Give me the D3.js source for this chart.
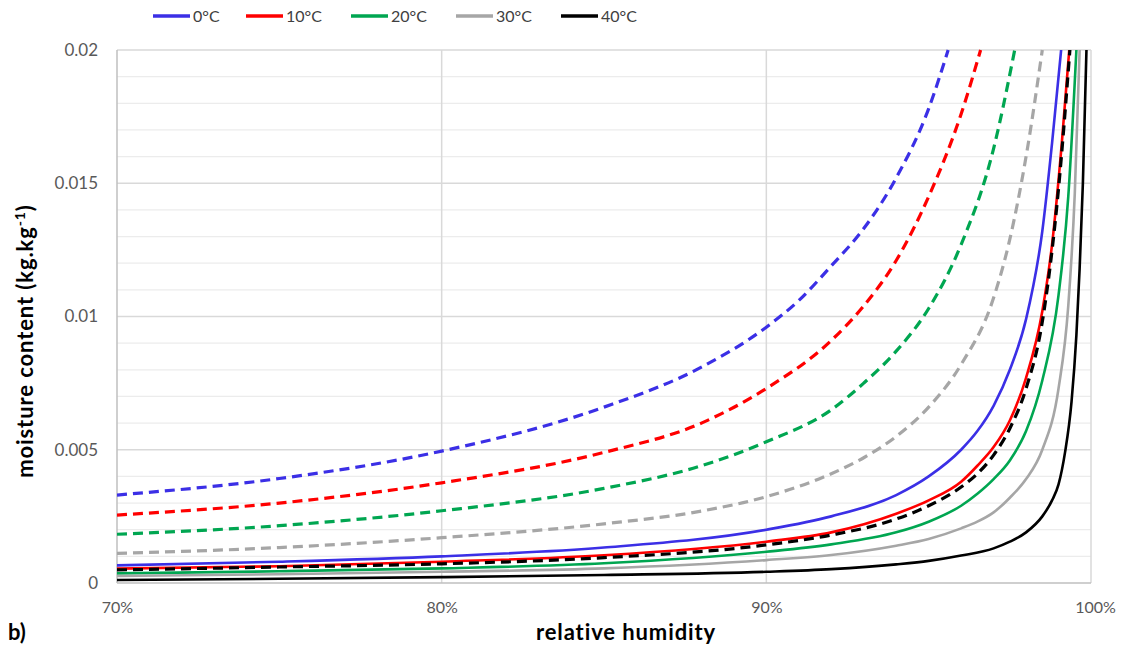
<!DOCTYPE html>
<html><head><meta charset="utf-8">
<script src="https://cdn.jsdelivr.net/npm/d3@7"></script>
<style>html,body{margin:0;padding:0;background:#fff;}svg{display:block;}</style>
</head><body><svg id="c" width="1122" height="652"></svg>
<script>
// ---------- data (relative humidity in %, moisture content in kg/kg) ----------
const temps = ["0°C", "10°C", "20°C", "30°C", "40°C"];
const colors = ["#3b2fe6", "#ff0000", "#00a651", "#a6a6a6", "#000000"];
const xTicks = [70, 80, 90, 100];
const yTicks = [0, 0.005, 0.01, 0.015, 0.02];

// dashed family
const dashed0 = [[70,0.0033],[75,0.00392],[80,0.00495],[85,0.0066],[88,0.0081],[90,0.0096],[91,0.0106],[92,0.0119],[93,0.0133],[94,0.0152],[95,0.0178],[95.6,0.02]];
const dashed10 = [[70,0.00255],[75,0.003],[80,0.00376],[85,0.0049],[88,0.006],[90,0.0073],[92,0.0091],[93,0.0104],[94,0.0121],[95,0.0145],[96,0.0176],[96.6,0.02]];
const dashed20 = [[70,0.00183],[75,0.00215],[80,0.00271],[85,0.00355],[88,0.0044],[90,0.0053],[92,0.0065],[93,0.0075],[94,0.0087],[95,0.0103],[96,0.0127],[97,0.0163],[97.65,0.02]];
const dashed30 = [[70,0.00111],[75,0.00133],[80,0.0017],[85,0.00222],[88,0.0027],[90,0.00324],[92,0.0041],[93,0.0047],[94,0.0055],[95,0.0066],[96,0.0082],[97,0.0107],[97.5,0.0129],[98,0.016],[98.5,0.02]];
const dashed40 = [[70,0.00049],[75,0.0006],[80,0.00072],[85,0.00095],[90,0.00143],[92,0.0018],[94,0.0024],[95,0.0029],[96,0.0036],[96.5,0.0041],[97,0.0048],[97.5,0.0058],[98,0.0073],[98.5,0.0098],[99,0.0148],[99.35,0.02]];

// solid family
const solid0 = [[70,0.00066],[75,0.0008],[80,0.001],[85,0.00133],[90,0.002],[92,0.0025],[94,0.0033],[95,0.004],[96,0.005],[96.5,0.0057],[97,0.00665],[97.5,0.008],[98,0.0099],[98.5,0.0132],[98.8,0.0165],[99.08,0.02]];
const solid10 = [[70,0.00054],[75,0.00063],[80,0.0008],[85,0.00104],[90,0.00155],[92,0.0019],[94,0.0026],[95,0.0031],[96,0.0038],[96.5,0.0044],[97,0.0051],[97.5,0.0061],[98,0.0077],[98.5,0.0102],[98.8,0.0127],[99.1,0.0165],[99.33,0.02]];
const solid20 = [[70,0.00036],[75,0.00044],[80,0.00055],[85,0.00074],[90,0.00117],[92,0.00145],[94,0.0019],[95,0.0023],[96,0.0029],[96.5,0.00335],[97,0.0039],[97.5,0.0046],[98,0.0057],[98.5,0.0076],[99,0.0108],[99.3,0.0145],[99.55,0.02]];
const solid30 = [[70,0.00026],[75,0.00033],[80,0.00042],[85,0.00055],[90,0.00086],[92,0.00105],[94,0.0014],[95,0.00165],[96,0.00205],[96.5,0.0023],[97,0.00265],[97.5,0.0032],[98,0.0039],[98.5,0.005],[99,0.0073],[99.3,0.0104],[99.5,0.0146],[99.65,0.02]];
const solid40 = [[70,0.00011],[75,0.00016],[80,0.00022],[85,0.0003],[90,0.00042],[92,0.00052],[94,0.0007],[95,0.00083],[96,0.00103],[97,0.0013],[97.5,0.00155],[98,0.0019],[98.5,0.0025],[98.8,0.0031],[99,0.0037],[99.2,0.0049],[99.4,0.0068],[99.55,0.0093],[99.65,0.0118],[99.75,0.015],[99.86,0.02]];

const dashedSeries = [dashed0, dashed10, dashed20, dashed30, dashed40];
const solidSeries = [solid0, solid10, solid20, solid30, solid40];

// ---------- layout ----------
const svg = d3.select("#c");
const L = 117, R = 1091, T = 50, B = 583;
const font = "Lato, 'Open Sans', sans-serif";
const x = d3.scaleLinear().domain([70, 100]).range([L, R]);
const y = d3.scaleLinear().domain([0, 0.02]).range([B, T]);

// minor gridlines
const minor = d3.range(1, 20).filter(k => k % 5 !== 0).map(k => k * 0.001);
svg.append("g").selectAll("line").data(minor).join("line")
  .attr("x1", L).attr("x2", R).attr("y1", d => y(d)).attr("y2", d => y(d))
  .attr("stroke", "#ececec").attr("stroke-width", 1.2);
// major horizontal gridlines
svg.append("g").selectAll("line").data(yTicks.slice(1)).join("line")
  .attr("x1", L).attr("x2", R).attr("y1", d => y(d)).attr("y2", d => y(d))
  .attr("stroke", "#d9d9d9").attr("stroke-width", 1.5);
// vertical gridlines
svg.append("g").selectAll("line").data(xTicks.slice(1)).join("line")
  .attr("x1", d => x(d)).attr("x2", d => x(d)).attr("y1", T).attr("y2", B)
  .attr("stroke", "#d9d9d9").attr("stroke-width", 1.5);
// axis lines
svg.append("line").attr("x1", L).attr("x2", L).attr("y1", T).attr("y2", B).attr("stroke", "#bfbfbf").attr("stroke-width", 1.5);
svg.append("line").attr("x1", L).attr("x2", R).attr("y1", B).attr("y2", B).attr("stroke", "#bfbfbf").attr("stroke-width", 1.5);

// axes (labels only) via d3 axes
const yAxis = d3.axisLeft(y).tickValues(yTicks).tickFormat(d => d === 0 ? "0" : String(+d.toFixed(3))).tickSize(0).tickPadding(19);
const gy = svg.append("g").attr("transform", `translate(${L},0)`).call(yAxis);
gy.select(".domain").remove();
gy.selectAll("text").attr("font-family", font).attr("font-size", 17).attr("fill", "#595959");

const xAxis = d3.axisBottom(x).tickValues(xTicks).tickFormat(d => d + "%").tickSize(0).tickPadding(19);
const gx = svg.append("g").attr("transform", `translate(0,${B})`).call(xAxis);
gx.select(".domain").remove();
gx.selectAll("text").attr("font-family", font).attr("font-size", 16).attr("fill", "#595959");
gx.selectAll(".tick").filter(d => d === 100).select("text").attr("dx", 4);

// clip
svg.append("defs").append("clipPath").attr("id", "clip")
  .append("rect").attr("x", L).attr("y", T - 1).attr("width", R - L).attr("height", B - T + 2);

const line = d3.line().x(d => x(d[0])).y(d => y(d[1])).curve(d3.curveMonotoneX);
const plot = svg.append("g").attr("clip-path", "url(#clip)");
solidSeries.forEach((s, i) => {
  plot.append("path").attr("d", line(s)).attr("fill", "none")
    .attr("stroke", colors[i]).attr("stroke-width", 2.6);
});
dashedSeries.forEach((s, i) => {
  plot.append("path").attr("d", line(s)).attr("fill", "none")
    .attr("stroke", colors[i]).attr("stroke-width", 3.2).attr("stroke-dasharray", "10,6");
});

// axis titles
svg.append("text").attr("transform", `translate(33,341) rotate(-90)`)
  .attr("text-anchor", "middle").attr("font-family", font).attr("font-weight", "bold")
  .attr("font-size", 22).attr("letter-spacing", 0.9).attr("fill", "#000")
  .html('moisture content (kg.kg<tspan dy="-8" font-size="14">-1</tspan><tspan dy="8">)</tspan>');
svg.append("text").attr("x", 626).attr("y", 640).attr("text-anchor", "middle")
  .attr("font-family", font).attr("font-weight", "bold").attr("font-size", 22)
  .attr("letter-spacing", 0.9).text("relative humidity");
svg.append("text").attr("x", 8).attr("y", 640)
  .attr("font-family", font).attr("font-weight", "bold").attr("font-size", 22).text("b)");

// legend
const legX = [153, 246, 351, 456, 561];
const leg = svg.append("g");
temps.forEach((t, i) => {
  leg.append("line").attr("x1", legX[i]).attr("x2", legX[i] + 37).attr("y1", 16).attr("y2", 16)
    .attr("stroke", colors[i]).attr("stroke-width", 3.5);
  leg.append("text").attr("x", legX[i] + 40).attr("y", 22).attr("font-family", font)
    .attr("font-size", 16).attr("fill", "#404040").text(t);
});
</script></body></html>
